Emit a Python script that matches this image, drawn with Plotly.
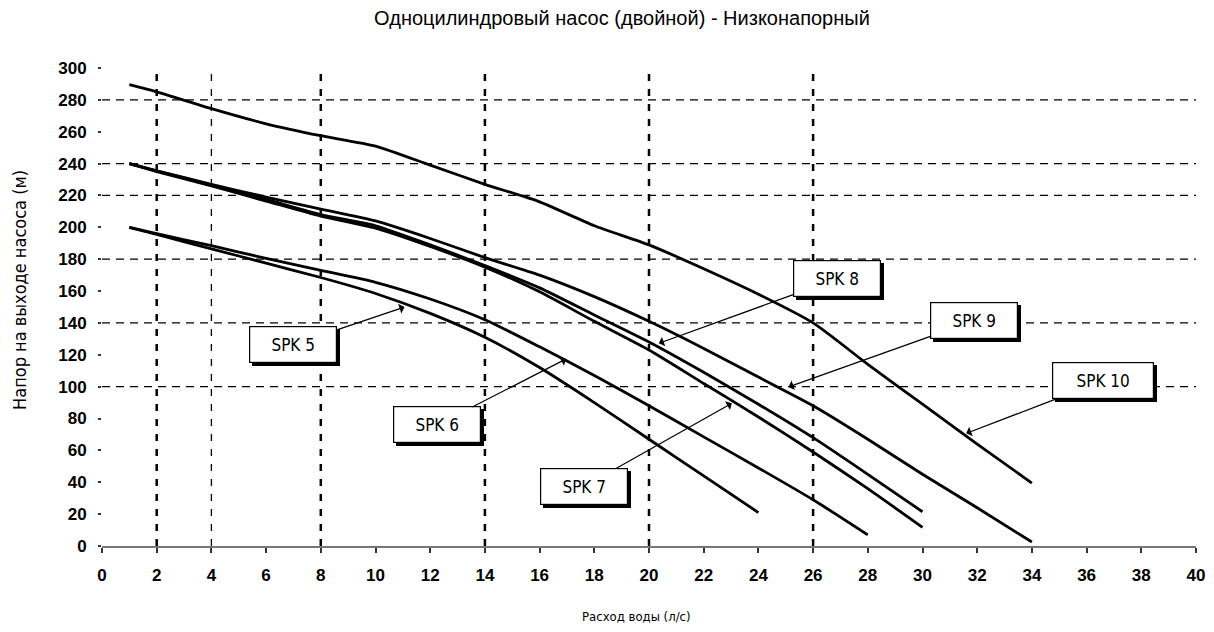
import plotly.graph_objects as go

# ---------------- data ----------------
x_spk5 = [1, 2, 4, 6, 8, 10, 12, 14, 16, 18, 20, 22, 24]
y_spk5 = [200, 195.5, 186.5, 177.5, 168.5, 158.5, 146, 131, 112, 90, 67, 44, 21]

x_spk6 = [1, 2, 4, 6, 8, 10, 12, 14, 16, 18, 20, 22, 24, 26, 28]
y_spk6 = [200, 196, 188.5, 180.5, 173, 165.5, 155, 142, 125, 107, 88, 68.5, 49, 29, 7]

x_spk7 = [1, 2, 4, 6, 8, 10, 12, 14, 16, 18, 20, 22, 24, 26, 28, 30]
y_spk7 = [240, 235, 226, 216.5, 207, 199.5, 188, 175, 159.5, 141, 123, 102, 81, 59, 36, 11.7]

x_spk8 = [1, 2, 4, 6, 8, 10, 12, 14, 16, 18, 20, 22, 24, 26, 28, 30]
y_spk8 = [240, 235.5, 226.5, 217.5, 208, 201, 189, 176, 162, 145, 128, 109, 89, 68, 45, 21.5]

x_spk9 = [1, 2, 4, 6, 8, 10, 12, 14, 16, 18, 20, 22, 24, 26, 28, 30, 32, 34]
y_spk9 = [240, 235.5, 227, 219, 211.5, 204, 193, 181, 170, 156.5, 141, 124, 106, 88, 67, 45, 24, 2.5]

x_spk10 = [1, 2, 4, 6, 8, 10, 12, 14, 16, 18, 20, 22, 24, 26, 28, 30, 32, 34]
y_spk10 = [289.5, 285, 274.5, 265, 257.5, 251, 239, 227, 216, 201, 189, 174, 158, 140, 114, 89, 64, 39.5]

series_names = ["SPK 5", "SPK 6", "SPK 7", "SPK 8", "SPK 9", "SPK 10"]
series_x = [x_spk5, x_spk6, x_spk7, x_spk8, x_spk9, x_spk10]
series_y = [y_spk5, y_spk6, y_spk7, y_spk8, y_spk9, y_spk10]

# callout labels: arrow tip on curve (tip) and label box centre (box), in data units
label_tip_x = [11.06, 16.97, 23.03, 20.36, 25.1, 31.6]
label_tip_y = [150, 117.4, 89.6, 127.2, 99.8, 70.7]
label_box_x = [7.0, 12.26, 17.63, 26.86, 31.9, 36.6]
label_box_y = [126.5, 76, 37.4, 167.6, 141.4, 103.6]

x_ticks = list(range(0, 42, 2))
y_ticks = list(range(0, 320, 20))
x_grid_heavy = [2, 8, 14, 20, 26]
x_grid_light = [4]
y_grid = [100, 140, 180, 220, 240, 280]

title_text = "Одноцилиндровый насос (двойной) - Низконапорный"
x_title = "Расход воды (л/с)"
y_title = "Напор на выходе насоса (м)"

FONT = "Liberation Sans, Arial, sans-serif"
NARROW = "Liberation Sans Narrow, Arial Narrow, DejaVu Sans Condensed, sans-serif"

fig = go.Figure()

for name, xs, ys in zip(series_names, series_x, series_y):
    fig.add_trace(go.Scatter(
        x=xs, y=ys, mode="lines", name=name,
        line=dict(color="black", width=2.8, shape="spline", smoothing=0.6),
        showlegend=False, hoverinfo="x+y+name"))

shapes = []
for gx in x_grid_heavy:
    shapes.append(dict(type="line", xref="x", yref="y", x0=gx, x1=gx, y0=0, y1=300,
                       line=dict(color="black", width=2.5, dash="7px,8px"), layer="below"))
for gx in x_grid_light:
    shapes.append(dict(type="line", xref="x", yref="y", x0=gx, x1=gx, y0=0, y1=300,
                       line=dict(color="black", width=1.3, dash="7px,8px"), layer="below"))
for gy in y_grid:
    shapes.append(dict(type="line", xref="x", yref="y", x0=0, x1=40, y0=gy, y1=gy,
                       line=dict(color="black", width=1.2, dash="8px,6px"), layer="below"))

annotations = []
# shadows first
for name, bx, by in zip(series_names, label_box_x, label_box_y):
    w = 96 if name == "SPK 10" else 82
    annotations.append(dict(
        x=bx, y=by, xref="x", yref="y", text=name, showarrow=False,
        xshift=3, yshift=-3, width=w, height=31, borderpad=2, borderwidth=1,
        bgcolor="black", bordercolor="black",
        font=dict(family=NARROW, size=17, color="black")))
for name, tx, ty, bx, by in zip(series_names, label_tip_x, label_tip_y, label_box_x, label_box_y):
    w = 96 if name == "SPK 10" else 82
    annotations.append(dict(
        x=tx, y=ty, xref="x", yref="y", ax=bx, ay=by, axref="x", ayref="y",
        text=name, showarrow=True, arrowhead=1, arrowsize=1.4, arrowwidth=1.2,
        arrowcolor="black", width=w, height=31, borderpad=2, borderwidth=1.2,
        bgcolor="white", bordercolor="black",
        font=dict(family=NARROW, size=17, color="black")))

# axis titles
annotations.append(dict(
    x=0.489, y=-0.1485, xref="paper", yref="paper", text=x_title, showarrow=False,
    xanchor="center", yanchor="middle", font=dict(family=NARROW, size=13, color="black")))
annotations.append(dict(
    x=-0.075, y=0.5356, xref="paper", yref="paper", text=y_title, showarrow=False,
    textangle=-90, xanchor="center", yanchor="middle",
    font=dict(family=NARROW, size=18, color="black")))

fig.update_layout(
    width=1198, height=616,
    paper_bgcolor="white", plot_bgcolor="white",
    margin=dict(l=94, r=10, t=60, b=78),
    title=dict(text=title_text, x=0.5125, xref="container", xanchor="center",
               y=0.984, yref="container", yanchor="middle",
               font=dict(family=FONT, size=20, color="black")),
    font=dict(family=FONT, color="black"),
    shapes=shapes,
    annotations=annotations,
    xaxis=dict(range=[0, 40], tickvals=x_ticks, ticktext=[str(v) for v in x_ticks],
               automargin=False, ticklabeloverflow="allow",
               showgrid=False, zeroline=False, showline=True, linecolor="#777777",
               linewidth=2, ticks="outside", ticklen=5, tickwidth=2, tickcolor="#333333",
               ticklabelstandoff=8,
               tickfont=dict(family=FONT, size=17, color="black", weight="bold")),
    yaxis=dict(range=[0, 300], tickvals=y_ticks, ticktext=[str(v) for v in y_ticks],
               automargin=False,
               showgrid=False, zeroline=False, showline=False,
               ticks="outside", ticklen=3, tickwidth=1.5, tickcolor="#333333",
               ticklabelstandoff=8,
               tickfont=dict(family=FONT, size=17, color="black", weight="bold")),
)

fig.write_html("out.html")
